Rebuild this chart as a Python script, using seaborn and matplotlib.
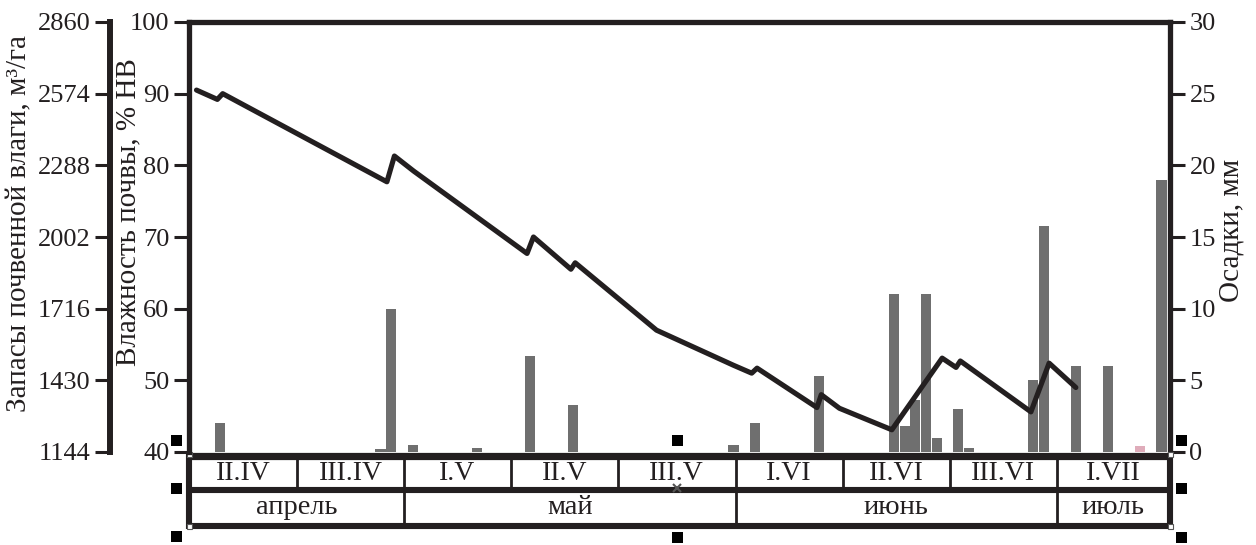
import matplotlib
matplotlib.use("Agg")
import numpy as np
import pandas as pd
import matplotlib.pyplot as plt
import seaborn as sns
from matplotlib.patches import Rectangle
from matplotlib.lines import Line2D

# Soil moisture, % of field capacity (НВ); day 1 = 11 April
moisture_day = [0.8, 2.75, 3.25, 18.6, 19.3, 21.1, 31.7, 32.3, 35.8, 36.2, 43.8,
                51.0, 52.7, 53.2, 58.8, 59.2, 60.9, 65.8, 70.5, 71.8, 72.2,
                78.8, 80.5, 83.0]
moisture_pct = [90.5, 89.2, 90.0, 77.7, 81.3, 79.2, 67.7, 70.0, 65.5, 66.4, 57.0,
                52.1, 51.0, 51.7, 46.2, 48.0, 46.1, 43.1, 53.1, 51.8, 52.7,
                45.6, 52.4, 49.0]

# Daily precipitation, mm
rain_day = [3, 18, 19, 21, 27, 32, 36, 51, 53, 59, 66, 67, 68, 69, 70, 72, 73,
            79, 80, 83, 86, 89, 91]
rain_mm = [2.0, 0.2, 10.0, 0.5, 0.3, 6.7, 3.3, 0.5, 2.0, 5.3, 11.0, 1.8, 3.6,
           11.0, 1.0, 3.0, 0.3, 5.0, 15.8, 6.0, 6.0, 0.4, 19.0]
rain_kind = ["rain"] * 21 + ["trace", "rain"]

# Ten-day periods and months shown under the plot
decade_labels = ["II.IV", "III.IV", "I.V", "II.V", "III.V", "I.VI", "II.VI", "III.VI", "I.VII"]
decade_days = [10, 10, 10, 10, 11, 10, 10, 10, 10]
month_labels = ["апрель", "май", "июнь", "июль"]
month_decades = [2, 3, 3, 1]

moisture_ticks = [40, 50, 60, 70, 80, 90, 100]
store_ticks = [1144, 1430, 1716, 2002, 2288, 2574, 2860]
rain_ticks = [0, 5, 10, 15, 20, 25, 30]

INK = "#231f20"
BAR = "#6f6f6f"
PINK = "#e8a3b6"

sns.set_theme(style="white")
plt.rcParams["font.family"] = ["Liberation Serif", "DejaVu Serif"]
plt.rcParams["text.color"] = INK
plt.rcParams["axes.labelcolor"] = INK
plt.rcParams["xtick.color"] = INK
plt.rcParams["ytick.color"] = INK

W, H = 1256, 545
fig = plt.figure(figsize=(W / 100, H / 100), dpi=100)
fig.patch.set_facecolor("white")


def fx(px):
    return px / W


def fy(py):
    return 1 - py / H


XL, XR, YT, YB = 189, 1170, 22, 452
xlim = (0.1, 91.8)

ax = fig.add_axes([fx(XL), fy(YB), fx(XR) - fx(XL), fy(YT) - fy(YB)])
axr = ax.twinx()

# precipitation bars on the right scale
rain_df = pd.DataFrame({"day": rain_day, "mm": rain_mm, "kind": rain_kind})
sns.barplot(data=rain_df, x="day", y="mm", hue="kind", native_scale=True,
            palette={"rain": BAR, "trace": PINK}, dodge=False, width=0.95,
            linewidth=0, legend=False, ax=axr)

# soil moisture line on the left scale
sns.lineplot(x=moisture_day, y=moisture_pct, ax=ax, color=INK, linewidth=3.7,
             sort=False, estimator=None)

ax.set_zorder(axr.get_zorder() + 1)
ax.patch.set_visible(False)

for a in (ax, axr):
    a.set_xlim(*xlim)
    a.set_xticks([])
    a.set_xlabel("")
    a.set_ylabel("")

ax.set_ylim(40, 100)
ax.set_yticks(moisture_ticks)
axr.set_ylim(0, 30)
axr.set_yticks(rain_ticks)

SPW = 3.8
for name, sp in ax.spines.items():
    sp.set_visible(name in ("left", "top"))
    sp.set_linewidth(SPW)
    sp.set_color(INK)
for name, sp in axr.spines.items():
    sp.set_visible(name == "right")
    sp.set_linewidth(SPW)
    sp.set_color(INK)

ax.tick_params(axis="y", which="major", direction="out", length=11, width=2.2,
               labelsize=19, pad=3, left=True, right=False)
axr.tick_params(axis="y", which="major", direction="out", length=11, width=2.2,
                labelsize=19, pad=3, right=True, left=False)

# soil water store axis (m3/ha), linear in moisture
def to_store(p):
    return 1144 + (np.asarray(p) - 40) * 28.6


def to_pct(s):
    return 40 + (np.asarray(s) - 1144) / 28.6


sec = ax.secondary_yaxis((110 - XL) / (XR - XL), functions=(to_store, to_pct))
sec.set_yticks(store_ticks)
sec.spines["left"].set_linewidth(4.3)
sec.spines["left"].set_color(INK)
sec.tick_params(axis="y", direction="out", length=11, width=2.2, labelsize=19,
                pad=3, colors=INK)

# axis titles
fig.text(fx(19), fy(224), "Запасы почвенной влаги, м³/га", rotation=90,
         ha="center", va="center", fontsize=21)
fig.text(fx(128), fy(212), "Влажность почвы, % НВ", rotation=90,
         ha="center", va="center", fontsize=21)
fig.text(fx(1231), fy(230), "Осадки, мм", rotation=90,
         ha="center", va="center", fontsize=21)

# period table below the plot
axt = fig.add_axes([fx(XL), fy(531), fx(XR) - fx(XL), fy(452) - fy(531)])
axt.set_xlim(*xlim)
axt.set_ylim(531, 452)
axt.axis("off")

edges = np.concatenate([[0.2], 0.2 + np.cumsum(decade_days)])
edges[0], edges[-1] = xlim[0], xlim[1]
kw = dict(color=INK, solid_capstyle="butt", clip_on=False)
for yy, lw in ((456.5, 5.2), (490.5, 4.4), (526.5, 4.4)):
    axt.plot(xlim, [yy, yy], lw=lw, **kw)
for xx in xlim:
    axt.plot([xx, xx], [453, 529.5], lw=4.4, **kw)
for xx in edges[1:-1]:
    axt.plot([xx, xx], [458, 489], lw=2.0, **kw)
for lab, a, b in zip(decade_labels, edges[:-1], edges[1:]):
    axt.text((a + b) / 2, 474, lab, ha="center", va="center", fontsize=20)

m_idx = np.concatenate([[0], np.cumsum(month_decades)])
for i in m_idx[1:-1]:
    axt.plot([edges[i], edges[i]], [492, 525], lw=2.0, **kw)
for lab, i0, i1 in zip(month_labels, m_idx[:-1], m_idx[1:]):
    axt.text((edges[i0] + edges[i1]) / 2, 507, lab, ha="center", va="center",
             fontsize=20.5)

# selection handles around the table
for cx, cy in [(176, 440), (176, 488), (176, 536), (677, 440), (677, 537),
               (1181, 440), (1181, 488), (1181, 537)]:
    fig.add_artist(Rectangle((fx(cx - 5.5), fy(cy + 5.5)), 11 / W, 11 / H,
                             transform=fig.transFigure, facecolor="black",
                             edgecolor="none"))
for cx, cy in [(189, 454), (189, 526), (1170, 454), (1170, 526)]:
    fig.add_artist(Rectangle((fx(cx - 2.5), fy(cy + 2.5)), 5 / W, 5 / H,
                             transform=fig.transFigure, facecolor="white",
                             edgecolor="#555555", linewidth=0.8))
fig.add_artist(Line2D([fx(677)], [fy(488)], marker="x", markersize=6,
                      markeredgewidth=1.5, color="#555555",
                      transform=fig.transFigure))

fig.savefig("out.png", dpi=100)
